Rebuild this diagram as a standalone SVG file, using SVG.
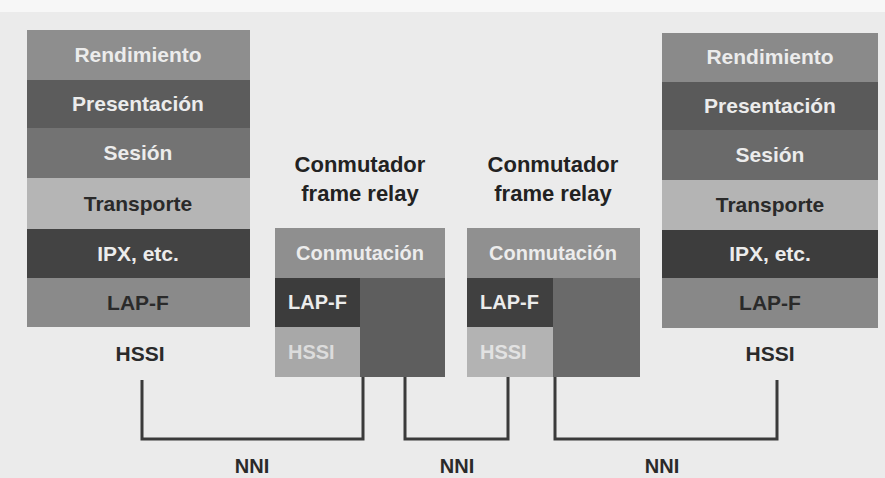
<svg xmlns="http://www.w3.org/2000/svg" width="885" height="478" viewBox="0 0 885 478">
<style>
text{font-family:"Liberation Sans",Arial,sans-serif;font-weight:bold;text-anchor:middle}
.l{font-size:21px;fill:#ececec}
.d{font-size:21px;fill:#2a2a2a}
.s{font-size:20px;fill:#ececec;text-anchor:start}
.t{font-size:22px;fill:#222}
.lab{font-size:21px;fill:#2a2a2a}
.n{font-size:20px;fill:#2a2a2a}
.c{fill:none;stroke:#3a3a3a;stroke-width:3}
</style>
<rect width="885" height="478" fill="#ebebeb"/>
<rect width="885" height="12" fill="#f7f7f7"/>
<g id="host-left">
<rect x="27" y="30" width="223" height="50" fill="#8e8e8e"/>
<rect x="27" y="80" width="223" height="48" fill="#5c5c5c"/>
<rect x="27" y="128" width="223" height="50" fill="#737373"/>
<rect x="27" y="178" width="223" height="51" fill="#b5b5b5"/>
<rect x="27" y="229" width="223" height="49" fill="#434343"/>
<rect x="27" y="278" width="223" height="49" fill="#8a8a8a"/>
<text class="l" x="138" y="62">Rendimiento</text>
<text class="l" x="138" y="111">Presentación</text>
<text class="l" x="138" y="160">Sesión</text>
<text class="d" x="138" y="211">Transporte</text>
<text class="l" x="138" y="261">IPX, etc.</text>
<text class="d" x="138" y="310">LAP-F</text>
<text class="lab" x="140" y="361">HSSI</text>
</g>
<g id="switch-1">
<text class="t" x="360" y="172">Conmutador</text>
<text class="t" x="360" y="201">frame relay</text>
<rect x="275" y="228" width="170" height="50" fill="#8f8f8f"/>
<rect x="275" y="278" width="85" height="49" fill="#3c3c3c"/>
<rect x="275" y="327" width="85" height="50" fill="#a8a8a8"/>
<rect x="360" y="278" width="85" height="99" fill="#5e5e5e"/>
<text class="l" x="360" y="260" style="font-size:20px">Conmutación</text>
<text class="s" x="288" y="309">LAP-F</text>
<text class="s" x="288" y="359" style="fill:#dcdcdc">HSSI</text>
</g>
<g id="switch-2">
<text class="t" x="553" y="172">Conmutador</text>
<text class="t" x="553" y="201">frame relay</text>
<rect x="467" y="228" width="173" height="50" fill="#909090"/>
<rect x="467" y="278" width="86" height="49" fill="#404040"/>
<rect x="467" y="327" width="86" height="50" fill="#b3b3b3"/>
<rect x="553" y="278" width="87" height="99" fill="#6a6a6a"/>
<text class="l" x="553" y="260" style="font-size:20px">Conmutación</text>
<text class="s" x="480" y="309">LAP-F</text>
<text class="s" x="480" y="359" style="fill:#e2e2e2">HSSI</text>
</g>
<g id="host-right">
<rect x="662" y="33" width="216" height="49" fill="#8a8a8a"/>
<rect x="662" y="82" width="216" height="48" fill="#5a5a5a"/>
<rect x="662" y="130" width="216" height="50" fill="#6a6a6a"/>
<rect x="662" y="180" width="216" height="50" fill="#b4b4b4"/>
<rect x="662" y="230" width="216" height="48" fill="#3d3d3d"/>
<rect x="662" y="278" width="216" height="50" fill="#888888"/>
<text class="l" x="770" y="64">Rendimiento</text>
<text class="l" x="770" y="113">Presentación</text>
<text class="l" x="770" y="162">Sesión</text>
<text class="d" x="770" y="212">Transporte</text>
<text class="l" x="770" y="261">IPX, etc.</text>
<text class="d" x="770" y="310">LAP-F</text>
<text class="lab" x="770" y="361">HSSI</text>
</g>
<g id="connectors">
<polyline class="c" points="142,380 142,439 363,439 363,377"/>
<polyline class="c" points="405,377 405,439 508,439 508,377"/>
<polyline class="c" points="555,377 555,439 777,439 777,380"/>
</g>
<g id="labels">
<text class="n" x="252" y="473">NNI</text>
<text class="n" x="457" y="473">NNI</text>
<text class="n" x="662" y="473">NNI</text>
</g>
</svg>
